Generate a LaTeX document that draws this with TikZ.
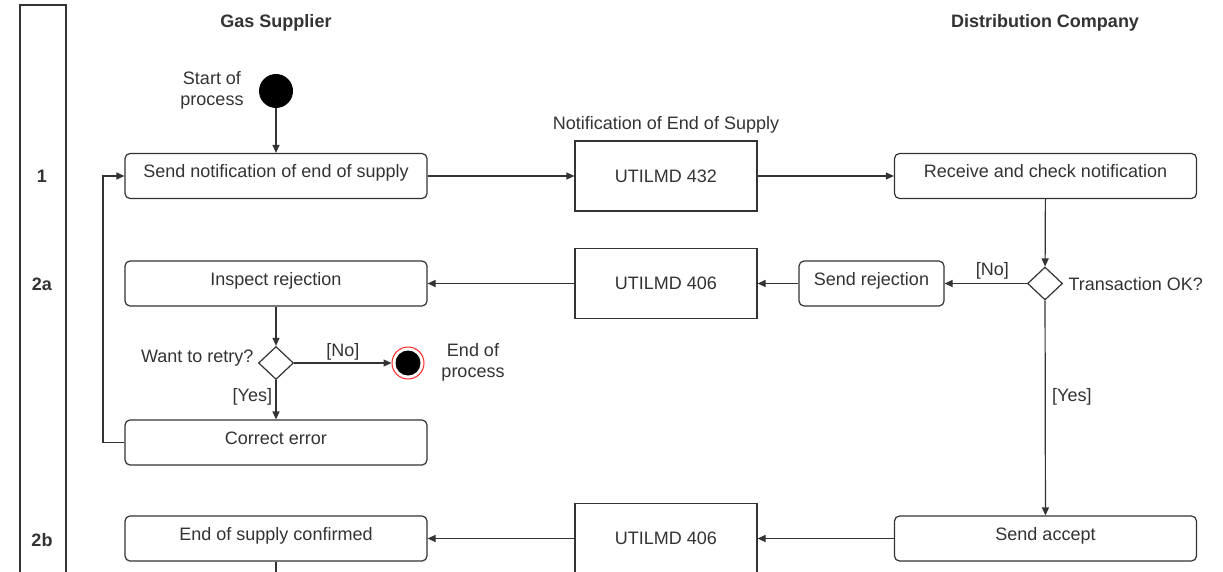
\documentclass[tikz,border=0pt]{standalone}
\usepackage{fontspec}
\setmainfont{Liberation Sans}
\usetikzlibrary{arrows.meta,shapes.geometric}
\definecolor{ln}{HTML}{333333}
\begin{document}
\begin{tikzpicture}[x=1pt,y=-1pt,
  font=\fontsize{18}{21}\selectfont, text=ln,
  act/.style={draw=ln, line width=1.2pt, rounded corners=5pt, minimum width=302pt, minimum height=45pt, inner sep=0pt, text height=13pt, text depth=9pt},
  msg/.style={draw=ln, line width=1.2pt, minimum width=182pt, minimum height=70pt, inner sep=0pt},
  dec/.style={diamond, draw=ln, line width=1.2pt, minimum width=35pt, minimum height=33pt, inner sep=0pt},
  arr/.style={draw=ln, line width=1.2pt, -{Triangle[length=8pt,width=7pt]}},
  plain/.style={draw=ln, line width=1.2pt},
  hdr/.style={font=\bfseries\fontsize{18}{21}\selectfont}]
\useasboundingbox (0,0) rectangle (1223,572);
\fill[white] (0,0) rectangle (1223,572);
% lane column
\draw[plain] (20,5) rectangle (66,590);
\node[hdr] (l1) at (42,176) {1};
\node[hdr] (l2a) at (42,284) {2a};
\node[hdr] (l2b) at (42,540) {2b};
% headers
\node[hdr] (h1) at (276,23) {Gas Supplier};
\node[hdr] (h2) at (1045,23) {Distribution Company};
% nodes
\node[circle, fill=black, minimum size=34pt, inner sep=0pt] (start) at (276,91) {};
\node[align=center] (starttxt) at (212,90) {Start of\\process};
\node[act] (send) at (276,176) {Send notification of end of supply};
\node[msg] (u432) at (666,176) {UTILMD 432};
\node (u432l) at (666,125) {Notification of End of Supply};
\node[act] (recv) at (1045.5,176) {Receive and check notification};
\node[dec] (tok) at (1045,283.5) {};
\node[anchor=west] (toktxt) at (1065,284) {Transaction OK?};
\node[act, minimum width=145pt] (rej) at (871.5,283.5) {Send rejection};
\node[msg] (u406a) at (666,283.5) {UTILMD 406};
\node[act] (insp) at (276,283.5) {Inspect rejection};
\node[dec] (retry) at (276,363) {};
\node[anchor=east] (retrytxt) at (257,358) {Want to retry?};
\node[circle, draw=red!85!white, line width=1pt, fill=white, minimum size=32pt, inner sep=0pt] (end) at (408,363) {};
\node[circle, fill=black, minimum size=25pt, inner sep=0pt] (endin) at (end.center) {};
\node[align=center] (endtxt) at (473,362) {End of\\process};
\node[act] (corr) at (276,442.5) {Correct error};
\node[act] (acc) at (1045.5,538.5) {Send accept};
\node[msg] (u406b) at (666,538.5) {UTILMD 406};
\node[act] (conf) at (276,538.5) {End of supply confirmed};
\coordinate (loop) at (103,442.5);
\coordinate (confout) at (276,590);
% connectors
\draw[arr] (start) -- (send);
\draw[arr] (send) -- (u432);
\draw[arr] (u432) -- (recv);
\draw[arr] (recv) -- (tok);
\draw[arr] (tok) -- node[above, pos=0.42] {[No]} (rej);
\draw[arr] (rej) -- (u406a);
\draw[arr] (u406a) -- (insp);
\draw[arr] (insp) -- (retry);
\draw[arr] (retry) -- node[above, pos=0.5, yshift=-1pt] {[No]} (end);
\draw[arr] (retry) -- node[left, pos=0.42] {[Yes]} (corr);
\draw[arr] (corr.west) -- (loop) |- (send.west);
\draw[arr] (tok) -- node[right, pos=0.45, xshift=3pt] {[Yes]} (acc);
\draw[arr] (acc) -- (u406b);
\draw[arr] (u406b) -- (conf);
\draw[plain] (conf.south) -- (confout);
\end{tikzpicture}
\end{document}
